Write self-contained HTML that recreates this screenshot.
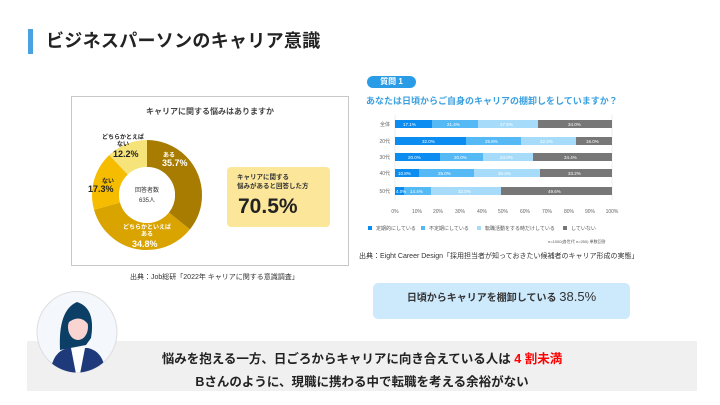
<!DOCTYPE html>
<html><head><meta charset="utf-8"><style>
body{margin:0;width:720px;height:405px;background:#fff;position:relative;overflow:hidden;font-family:"Liberation Sans","Noto Sans CJK JP",sans-serif;color:#222}
.a{position:absolute;white-space:nowrap}
</style></head><body>
<div class="a" style="left:28px;top:29px;width:5px;height:25px;background:#4aa3e0"></div>
<div class="a" style="left:46px;top:29px;font-size:18px;font-weight:bold;line-height:25px;letter-spacing:0.3px">ビジネスパーソンのキャリア意識</div>

<div class="a" style="left:71px;top:96px;width:276px;height:168px;border:1px solid #c8c8c8"></div>
<div class="a" style="left:72px;top:106px;width:276px;text-align:center;font-size:8px;font-weight:bold;color:#444">キャリアに関する悩みはありますか</div>
<svg class="a" style="left:0;top:0" width="720" height="405">
<g transform="translate(147,195) rotate(-90)" fill="none" stroke-width="27">
<circle r="41.5" stroke="#a87c00" stroke-dasharray="93.1 300"/>
<circle r="41.5" stroke="#d9a300" stroke-dasharray="90.8 300" stroke-dashoffset="-93.1"/>
<circle r="41.5" stroke="#f6bd00" stroke-dasharray="45.1 300" stroke-dashoffset="-183.9"/>
<circle r="41.5" stroke="#f6e37a" stroke-dasharray="31.8 300" stroke-dashoffset="-229"/>
</g>
<circle cx="147" cy="195" r="28" fill="#fff"/>
</svg>
<div class="a" style="left:127px;top:186px;width:40px;text-align:center;font-size:6px;line-height:10px;color:#333">回答者数<br>635人</div>
<div class="a" style="left:163px;top:150px;font-size:6px;color:#fff;font-weight:bold">ある</div>
<div class="a" style="left:162px;top:158px;font-size:9px;color:#fff;font-weight:bold">35.7%</div>
<div class="a" style="left:117px;top:225px;width:60px;text-align:center;font-size:6px;line-height:7px;color:#fff;font-weight:bold">どちらかといえば<br>ある</div>
<div class="a" style="left:132px;top:239px;font-size:9px;color:#fff;font-weight:bold">34.8%</div>
<div class="a" style="left:102px;top:176px;font-size:6px;font-weight:bold">ない</div>
<div class="a" style="left:88px;top:184px;font-size:9px;font-weight:bold">17.3%</div>
<div class="a" style="left:98px;top:135px;width:50px;text-align:center;font-size:6px;line-height:7px;font-weight:bold">どちらかとえば<br>ない</div>
<div class="a" style="left:113px;top:149px;font-size:9px;font-weight:bold">12.2%</div>
<div class="a" style="left:227px;top:167px;width:103px;height:60px;background:#fbe69a;border-radius:4px"></div>
<div class="a" style="left:237px;top:173px;font-size:6.5px;line-height:9px;font-weight:bold;color:#333">キャリアに関する<br>悩みがあると回答した方</div>
<div class="a" style="left:238px;top:195px;font-size:21px;font-weight:bold;color:#222">70.5%</div>
<div class="a" style="left:130px;top:272px;font-size:7px;color:#333">出典：Job総研「2022年 キャリアに関する意識調査」</div>

<div class="a" style="left:367px;top:76px;width:49px;height:12px;background:#2a9ce6;border-radius:6px;color:#fff;font-size:8px;font-weight:bold;text-align:center;line-height:12px">質問 1</div>
<div class="a" style="left:366px;top:94px;font-size:9px;font-weight:bold;color:#3aa0e0">あなたは日頃からご自身のキャリアの棚卸しをしていますか？</div>
<svg class="a" style="left:0;top:0" width="720" height="405" font-family="Liberation Sans" font-size="4.5" fill="#fff">
<g stroke="#ddd" stroke-width="0.5"><line x1="395" y1="115" x2="395" y2="200"/><line x1="612" y1="115" x2="612" y2="200"/></g>
<g>
<rect x="395" y="120" width="37" height="8" fill="#0a8cf0"/><rect x="432" y="120" width="46" height="8" fill="#55b9f5"/><rect x="478" y="120" width="60" height="8" fill="#a6dcfa"/><rect x="538" y="120" width="74" height="8" fill="#777"/>
<rect x="395" y="137" width="71" height="8" fill="#0a8cf0"/><rect x="466" y="137" width="55" height="8" fill="#55b9f5"/><rect x="521" y="137" width="55" height="8" fill="#a6dcfa"/><rect x="576" y="137" width="36" height="8" fill="#777"/>
<rect x="395" y="153" width="45" height="8" fill="#0a8cf0"/><rect x="440" y="153" width="43" height="8" fill="#55b9f5"/><rect x="483" y="153" width="50" height="8" fill="#a6dcfa"/><rect x="533" y="153" width="79" height="8" fill="#777"/>
<rect x="395" y="169" width="24" height="8" fill="#0a8cf0"/><rect x="419" y="169" width="55" height="8" fill="#55b9f5"/><rect x="474" y="169" width="66" height="8" fill="#a6dcfa"/><rect x="540" y="169" width="72" height="8" fill="#777"/>
<rect x="395" y="187" width="9" height="8" fill="#0a8cf0"/><rect x="404" y="187" width="27" height="8" fill="#55b9f5"/><rect x="431" y="187" width="70" height="8" fill="#a6dcfa"/><rect x="501" y="187" width="111" height="8" fill="#777"/>
</g>
<g>
<text x="403" y="126">17.1%</text><text x="447" y="126">21.4%</text><text x="500" y="126">27.5%</text><text x="568" y="126">34.0%</text>
<text x="422" y="143">32.0%</text><text x="485" y="143">25.8%</text><text x="540" y="143">22.2%</text><text x="586" y="143">16.0%</text>
<text x="408" y="159">20.0%</text><text x="454" y="159">20.0%</text><text x="500" y="159">24.0%</text><text x="564" y="159">34.4%</text>
<text x="398" y="175">10.8%</text><text x="438" y="175">25.0%</text><text x="498" y="175">30.4%</text><text x="568" y="175">33.2%</text>
<text x="396" y="193">4.0%</text><text x="410" y="193">14.4%</text><text x="458" y="193">32.0%</text><text x="548" y="193">49.6%</text>
</g>
<g fill="#666" text-anchor="end" font-size="5"><text x="390" y="126">全体</text><text x="390" y="143">20代</text><text x="390" y="159">30代</text><text x="390" y="175">40代</text><text x="390" y="193">50代</text></g>
<g fill="#666" text-anchor="middle" font-size="5"><text x="395" y="213">0%</text><text x="417" y="213">10%</text><text x="438" y="213">20%</text><text x="460" y="213">30%</text><text x="482" y="213">40%</text><text x="503" y="213">50%</text><text x="525" y="213">60%</text><text x="547" y="213">70%</text><text x="569" y="213">80%</text><text x="590" y="213">90%</text><text x="612" y="213">100%</text></g>
<g font-size="5" fill="#555">
<rect x="368" y="226" width="4" height="4" fill="#0a8cf0"/><text x="376" y="230">定期的にしている</text>
<rect x="421" y="226" width="4" height="4" fill="#55b9f5"/><text x="429" y="230">不定期にしている</text>
<rect x="477" y="226" width="4" height="4" fill="#a6dcfa"/><text x="485" y="230">転職活動をする時だけしている</text>
<rect x="563" y="226" width="4" height="4" fill="#777"/><text x="571" y="230">していない</text>
<text x="548" y="243" font-size="4">n=1000(各世代 n=250) 単数回答</text>
</g>
</svg>
<div class="a" style="left:359px;top:251px;font-size:7px;color:#333">出典：Eight Career Design「採用担当者が知っておきたい候補者のキャリア形成の実態」</div>

<div class="a" style="left:373px;top:283px;width:257px;height:36px;background:#cde9fc;border-radius:5px;text-align:center;line-height:28px;font-size:10px;font-weight:bold;color:#333">日頃からキャリアを棚卸している <span style="font-size:13px;font-weight:normal">38.5%</span></div>

<div class="a" style="left:27px;top:341px;width:670px;height:50px;background:#f0f0f0"></div>
<svg class="a" style="left:36px;top:290px" width="82" height="84">
<ellipse cx="41" cy="42" rx="40" ry="40.5" fill="#f4f8fc" stroke="#ddd"/>
<clipPath id="c"><ellipse cx="41" cy="42" rx="40" ry="40.5"/></clipPath>
<g clip-path="url(#c)">
<path d="M24 60 Q22 20 41 12 Q60 18 55 48 L50 55 Z" fill="#0b3f66"/>
<ellipse cx="42" cy="37" rx="10" ry="13" fill="#f9d4d0"/>
<path d="M30 40 Q28 16 44 17 Q56 20 52 34 Q44 24 33 32 Z" fill="#0b3f66"/>
<path d="M14 90 Q14 62 32 58 L52 58 Q70 62 70 90 Z" fill="#1e3a7a"/>
<path d="M35 58 L49 58 L44 84 L40 84 Z" fill="#fff"/>
</g></svg>
<div class="a" style="left:27px;top:348px;width:670px;text-align:center;font-size:12.5px;font-weight:bold;color:#222">悩みを抱える一方、日ごろからキャリアに向き合えている人は <span style="color:#f00">4 割未満</span></div>
<div class="a" style="left:27px;top:371px;width:670px;text-align:center;font-size:12.5px;font-weight:bold;color:#222">Bさんのように、現職に携わる中で転職を考える余裕がない</div>
</body></html>
